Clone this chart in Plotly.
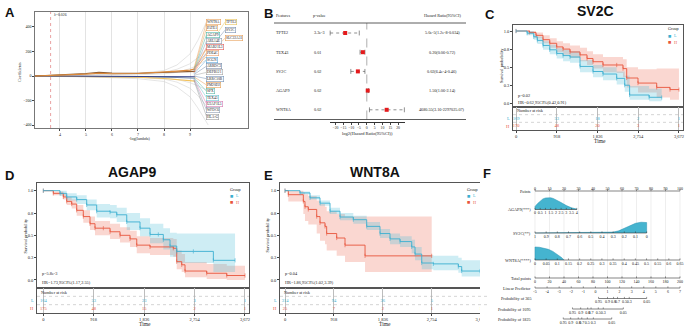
import numpy as np
import plotly.graph_objects as go

# ======================= DATA =======================
# ---- Panel A: LASSO coefficient paths (x = -log(lambda)) ----
lasso_x_gray = [3.04, 4.0, 5.0, 5.5, 6.0, 7.0, 8.0, 8.5, 9.0, 9.3, 9.7]
lasso_gray_1 = [0, 2, 8, 12, 14, 20, 45, 90, 180, 290, 470]
lasso_gray_2 = [0, 2, 6, 10, 12, 18, 30, 55, 100, 150, 230]
lasso_gray_3 = [0, 1, 4, 6, 8, 10, 18, 30, 60, 90, 140]
lasso_gray_4 = [0, -1, -2, -4, -5, -8, -15, -28, -55, -80, -120]
lasso_gray_5 = [0, -1, -4, -6, -8, -12, -25, -50, -100, -160, -260]
lasso_gray_6 = [0, -2, -6, -10, -14, -22, -45, -90, -170, -260, -400]
lasso_x_col = [3.04, 4.0, 5.0, 5.5, 6.0, 7.0, 8.0, 8.5, 9.0, 9.2]
lasso_orange = [0, 5, 15, 22, 18, 20, 30, 40, 48, 58]
lasso_brown = [0, 8, 20, 30, 25, 22, 28, 32, 35, 38]
lasso_navy = [0, 0, 0, -1, -1, -2, -3, -4, -5, -6]
lasso_yellow = [0, -3, -8, -10, -8, -10, -20, -28, -35, -42]
lasso_slate = [0, -1, -3, -5, -6, -7, -10, -12, -15, -18]
lambda_log = 3.64
lambda_text = "λ=0.026"
genes_col1 = ["WNT8A", "PATE1", "AGAP9", "ARL14E", "MAB21L3", "PDE4C", "SCGN", "ARRDC3",
              "DEFB121", "LRRC10B", "PM20D2", "SPX", "TEX43", "U2AF1L5", "WFDC6", "HLA-G"]
genes_col2 = ["TPTE2", "SV2C", "SLC22A31"]
fan_origin = [60, 52, 45, 38, 30, 24, 18, 12, 6, 0, -6, -12, -18, -24, -30, -36]
fan_origin2 = [66, 62, 58]

# ---- Panel B: multivariate Cox forest ----
features = ["TPTE2", "TEX43", "SV2C", "AGAP9", "WNT8A"]
pvalues = ["3.3e-3", "0.01", "0.02", "0.02", "0.02"]
hr_text = ["5.0e-5(1.2e-8-0.034)", "0.20(0.06-0.72)", "0.02(6.4e-4-0.46)",
           "1.50(1.06-2.14)", "4680.55(3.16-2297025.07)"]
log2_hr = [-13.8, -2.5, -5.7, 0.6, 12.7]
log2_lo = [-23.4, -4.3, -10.2, 0.1, 1.7]
log2_hi = [-4.8, -1.2, -1.2, 1.1, 24.0]

# ---- KM curves: time (days), survival, CI ----
time_ticks = [0, 918, 1836, 2754, 3672]
time_labels = ["0", "918", "1,836", "2,754", "3,672"]

sv2c_L_t = [0, 250, 400, 480, 608, 760, 917, 1060, 1217, 1442, 1735, 1960, 2269, 2450, 2560, 3000, 3283]
sv2c_L_s = [1.0, 0.97, 0.92, 0.87, 0.80, 0.74, 0.69, 0.66, 0.64, 0.51, 0.44, 0.405, 0.345, 0.25, 0.115, 0.083, 0.08]
sv2c_L_lo = [1.0, 0.94, 0.88, 0.82, 0.74, 0.68, 0.62, 0.58, 0.56, 0.43, 0.36, 0.32, 0.26, 0.16, 0.05, 0.03, 0.03]
sv2c_L_hi = [1.0, 1.0, 0.96, 0.92, 0.86, 0.81, 0.76, 0.74, 0.72, 0.60, 0.53, 0.50, 0.44, 0.38, 0.24, 0.20, 0.20]
sv2c_H_t = [0, 300, 450, 608, 760, 917, 1060, 1217, 1442, 1600, 1735, 1960, 2269, 2411, 2494, 2749, 3170, 3470, 3672]
sv2c_H_s = [1.0, 0.98, 0.94, 0.88, 0.83, 0.78, 0.75, 0.71, 0.67, 0.62, 0.575, 0.53, 0.53, 0.48, 0.35, 0.28, 0.22, 0.19, 0.19]
sv2c_H_lo = [1.0, 0.96, 0.90, 0.83, 0.77, 0.71, 0.67, 0.63, 0.58, 0.53, 0.48, 0.43, 0.42, 0.36, 0.22, 0.15, 0.08, 0.05, 0.05]
sv2c_H_hi = [1.0, 1.0, 0.98, 0.94, 0.90, 0.86, 0.83, 0.80, 0.77, 0.72, 0.68, 0.64, 0.64, 0.61, 0.50, 0.47, 0.48, 0.48, 0.48]
sv2c_risk_L = [169, 53, 18, 2, 1]
sv2c_risk_H = [170, 48, 20, 3, 1]

agap9_L_t = [0, 304, 426, 608, 790, 972, 1215, 1337, 1519, 1761, 1943, 2094, 2185, 2307, 2429, 2732, 3096, 3491]
agap9_L_s = [1.0, 0.97, 0.93, 0.90, 0.84, 0.77, 0.76, 0.73, 0.65, 0.58, 0.51, 0.51, 0.45, 0.38, 0.32, 0.32, 0.22, 0.22]
agap9_L_lo = [1.0, 0.94, 0.89, 0.85, 0.78, 0.70, 0.69, 0.65, 0.56, 0.49, 0.41, 0.41, 0.34, 0.26, 0.19, 0.19, 0.09, 0.09]
agap9_L_hi = [1.0, 1.0, 0.97, 0.95, 0.90, 0.85, 0.84, 0.81, 0.75, 0.69, 0.63, 0.63, 0.58, 0.53, 0.52, 0.52, 0.52, 0.52]
agap9_H_t = [0, 182, 364, 426, 517, 608, 728, 850, 941, 1093, 1215, 1397, 1579, 1701, 1943, 2367, 2429, 2520, 2580, 2975, 3340, 3672]
agap9_H_s = [1.0, 0.97, 0.93, 0.88, 0.85, 0.78, 0.71, 0.63, 0.58, 0.58, 0.54, 0.50, 0.46, 0.39, 0.37, 0.355, 0.205, 0.17, 0.10, 0.075, 0.05, 0.05]
agap9_H_lo = [1.0, 0.95, 0.90, 0.84, 0.80, 0.72, 0.64, 0.56, 0.50, 0.50, 0.46, 0.42, 0.37, 0.30, 0.28, 0.26, 0.12, 0.09, 0.03, 0.01, 0.0, 0.0]
agap9_H_hi = [1.0, 0.99, 0.97, 0.93, 0.90, 0.84, 0.78, 0.71, 0.66, 0.66, 0.63, 0.59, 0.55, 0.49, 0.47, 0.46, 0.33, 0.29, 0.20, 0.18, 0.16, 0.16]
agap9_risk_L = [164, 53, 23, 3, 1]
agap9_risk_H = [175, 48, 15, 2, 1]

wnt8a_L_t = [0, 281, 469, 657, 845, 1032, 1282, 1533, 1783, 1971, 2159, 2378, 2440, 2566, 2784, 3253, 3316, 3660]
wnt8a_L_s = [1.0, 0.975, 0.92, 0.86, 0.77, 0.705, 0.675, 0.60, 0.52, 0.46, 0.43, 0.37, 0.29, 0.19, 0.18, 0.15, 0.10, 0.10]
wnt8a_L_lo = [1.0, 0.96, 0.90, 0.83, 0.74, 0.67, 0.63, 0.56, 0.47, 0.40, 0.37, 0.30, 0.22, 0.12, 0.11, 0.08, 0.04, 0.04]
wnt8a_L_hi = [1.0, 0.99, 0.95, 0.89, 0.81, 0.75, 0.72, 0.65, 0.57, 0.52, 0.49, 0.45, 0.37, 0.28, 0.27, 0.25, 0.22, 0.22]
wnt8a_H_t = [0, 62, 344, 375, 437, 595, 657, 751, 782, 970, 1126, 1502, 2753]
wnt8a_H_s = [1.0, 0.955, 0.88, 0.82, 0.79, 0.71, 0.64, 0.60, 0.52, 0.47, 0.39, 0.27, 0.27]
wnt8a_H_lo = [1.0, 0.88, 0.74, 0.66, 0.62, 0.52, 0.44, 0.40, 0.33, 0.27, 0.20, 0.09, 0.09]
wnt8a_H_hi = [1.0, 1.0, 0.98, 0.96, 0.94, 0.89, 0.85, 0.82, 0.77, 0.74, 0.71, 0.71, 0.71]
wnt8a_risk_L = [314, 94, 36, 5, 1]
wnt8a_risk_H = [25, 7, 2, 1, 1]

# ---- Panel F: nomogram ----
points_ticks = [0, 10, 20, 30, 40, 50, 60, 70, 80, 90, 100]
agap9_vals = [0, 0.5, 1, 1.5, 2, 2.5, 3, 3.5, 4]
agap9_labels = ["0", "0.5", "1", "1.5", "2", "2.5", "3", "3.5", "4"]
agap9_max_points = 28.8
sv2c_vals = [1, 0.9, 0.8, 0.7, 0.6, 0.5, 0.4, 0.3, 0.2, 0.1, 0]
sv2c_labels = ["1", "0.9", "0.8", "0.7", "0.6", "0.5", "0.4", "0.3", "0.2", "0.1", "0"]
sv2c_max_points = 77.0
wnt8a_vals = [0, 0.05, 0.1, 0.15, 0.2, 0.25, 0.3, 0.35, 0.4, 0.45, 0.5, 0.55, 0.6, 0.65]
wnt8a_labels = ["0", "0.05", "0.1", "0.15", "0.2", "0.25", "0.3", "0.35", "0.4", "0.45", "0.5", "0.55", "0.6", "0.65"]
total_ticks = [0, 20, 40, 60, 80, 100, 120, 140, 160, 180, 200]
lp_ticks = [-5, -4, -3, -2, -1, 0, 1, 2, 3, 4, 5, 6, 7]
prob_labels = ["0.95", "0.9", "0.8", "0.7", "0.5", "0.3", "0.05"]
prob365_lp = [0.26, 1.0, 1.5, 1.83, 2.4, 2.8, 4.24]
prob1095_lp = [-1.9, -1.22, -0.64, -0.36, 0.24, 0.65, 2.31]
prob1825_lp = [-2.66, -2.05, -1.42, -1.13, -0.67, -0.17, 1.35]
dens_agap9_x = [0, 0.25, 0.5, 0.75, 1.0, 1.25, 1.5, 1.75, 2.0, 2.5, 3.0, 3.5, 4.0]
dens_agap9_y = [0.25, 0.5, 0.72, 0.88, 0.96, 1.0, 0.98, 0.92, 0.82, 0.58, 0.33, 0.14, 0.04]
dens_sv2c_x = [1.0, 0.7, 0.5, 0.35, 0.3, 0.25, 0.2, 0.15, 0.1, 0.05, 0.02, 0.0]
dens_sv2c_y = [0.0, 0.005, 0.01, 0.03, 0.08, 0.2, 0.45, 0.7, 0.88, 0.98, 1.0, 0.95]
dens_wnt8a_x = [0, 0.02, 0.04, 0.06, 0.08, 0.10, 0.12, 0.13]
dens_wnt8a_y = [1.0, 0.98, 0.92, 0.82, 0.66, 0.45, 0.18, 0.0]

# ======================= STYLE / LAYOUT HELPERS =======================
W, H = 685, 328
BLUE, RED = "#3BAFD0", "#E8553C"
BLUE_F, RED_F = "rgba(80,190,215,0.28)", "rgba(236,110,90,0.28)"
SERIF = "Liberation Serif"
SANS = "Liberation Sans"


def PX(x):
    return x / W


def PY(y):
    return 1 - y / H


def dx(a, b):
    return [a / W, b / W]


def dy(top, bot):
    return [1 - bot / H, 1 - top / H]


def ax(**kw):
    base = dict(showgrid=False, zeroline=False, showline=False, ticks="", showticklabels=False,
                fixedrange=True, tickangle=0, tickfont=dict(size=4.5, family=SERIF, color="#222"))
    base.update(kw)
    return base


fig = go.Figure()
layout = dict(width=W, height=H, margin=dict(l=0, r=0, t=0, b=0), paper_bgcolor="white",
              plot_bgcolor="white", showlegend=False,
              font=dict(family=SERIF, size=5, color="#222"))
annotations = []
shapes = []


def ann(text, x, y, xref="paper", yref="paper", size=4.5, color="#222", xanchor="center",
        yanchor="middle", family=SERIF, **kw):
    annotations.append(dict(text=text, x=x, y=y, xref=xref, yref=yref, showarrow=False,
                            font=dict(size=size, color=color, family=family),
                            xanchor=xanchor, yanchor=yanchor, **kw))


def line(x, y, xa, ya, color, width=1.0, dash=None, shape="linear", mode="lines", **kw):
    fig.add_trace(go.Scatter(x=x, y=y, mode=mode, xaxis=xa, yaxis=ya, hoverinfo="skip",
                             line=dict(color=color, width=width, dash=dash, shape=shape), **kw))


# ======================= PANEL A =======================
A_dom_x = (35, 248)
A_dom_y = (12, 128)
y0px, per_px = 76.0, 8.16   # data value 0 at px 76; 8.16 units per px
layout["xaxis"] = ax(domain=dx(*A_dom_x), range=[3.04, 11.23], anchor="y", showline=True, mirror=True,
                     linecolor="#777", linewidth=0.6, ticks="outside", ticklen=2, tickwidth=0.6,
                     showticklabels=True, tickvals=[4, 5, 6, 7, 8, 9], showgrid=True,
                     gridcolor="#e3e3e3", gridwidth=0.6, tickfont=dict(size=4, family=SERIF))
layout["yaxis"] = ax(domain=dy(*A_dom_y), range=[(y0px - 128) * per_px, (y0px - 12) * per_px], anchor="x",
                     showline=True, mirror=True, linecolor="#777", linewidth=0.6, ticks="outside",
                     ticklen=2, tickwidth=0.6, showticklabels=True, tickvals=[-400, -200, 0, 200, 400],
                     tickfont=dict(size=4, family=SERIF))
for g in [lasso_gray_1, lasso_gray_2, lasso_gray_3, lasso_gray_4, lasso_gray_5, lasso_gray_6]:
    line(lasso_x_gray, g, "x", "y", "#d4d4d4", 0.6)
for g, c in [(lasso_slate, "#7d93ab"), (lasso_yellow, "#f2c25e"), (lasso_navy, "#34428a"),
             (lasso_brown, "#8a5a30"), (lasso_orange, "#dd8a3a")]:
    line(lasso_x_col, g, "x", "y", c, 1.1)
shapes.append(dict(type="line", xref="x", yref="y domain", x0=lambda_log, x1=lambda_log, y0=0, y1=1,
                   line=dict(color="#e07a7a", width=0.7, dash="dot")))
ann(lambda_text, lambda_log + 0.05, PY(15), xref="x", size=3.8, xanchor="left")
col1_colors = ["#e8a15a", "#e3a35f", "#4fb8a8", "#8c9bb3", "#e0605a", "#eba06c", "#5ca7d9", "#7b8ca8",
               "#a5a5a5", "#7391b8", "#e89b52", "#5fb9a6", "#6cc7d1", "#d67ab1", "#8e9bb0", "#9a9a9a"]
col2_colors = ["#e8c25a", "#7a8fb0", "#e8a15a"]
x_col1 = 3.04 + (206.5 - 35) / 26.0
x_col2 = 3.04 + (225.0 - 35) / 26.0
for i, gname in enumerate(genes_col1):
    ypx = 22 + 6.3 * i
    line([9.15, x_col1], [fan_origin[i], (y0px - ypx) * per_px], "x", "y", col1_colors[i], 0.5)
    ann(gname, PX(206.5), PY(ypx), size=3.6, xanchor="left", bordercolor=col1_colors[i],
        borderwidth=0.6, borderpad=0.3, bgcolor="white")
for i, gname in enumerate(genes_col2):
    ypx = 22 + 8.1 * i
    line([9.15, x_col2], [fan_origin2[i], (y0px - ypx) * per_px], "x", "y", col2_colors[i], 0.5)
    ann(gname, PX(225), PY(ypx), size=3.6, xanchor="left", bordercolor=col2_colors[i],
        borderwidth=0.6, borderpad=0.3, bgcolor="white")
ann("Coefficients", PX(20), PY(72), size=4, textangle=-90)
ann("-log(lambda)", PX(140), PY(138.5), size=4)

# ======================= PANEL B =======================
rows = list(range(len(features)))
row_top_px, row_step = 33.0, 19.2
layout["xaxis2"] = ax(domain=dx(330, 405), range=[-23.5, 24.4], anchor="y2", showline=True,
                      linecolor="#333", linewidth=0.6, ticks="outside", ticklen=2, tickwidth=0.6,
                      showticklabels=True, tickvals=[-20, -15, -10, -5, 0, 5, 10, 15, 20],
                      tickfont=dict(size=3.8, family=SERIF))
layout["yaxis2"] = ax(domain=dy(23, 122), range=[(122 - row_top_px) / row_step, (23 - row_top_px) / row_step],
                      anchor="x2")
for i in rows:
    line([log2_lo[i], log2_hi[i]], [i, i], "x2", "y2", "#444", 0.6, dash="dot")
fig.add_trace(go.Scatter(x=log2_lo + log2_hi, y=rows + rows, mode="markers", xaxis="x2", yaxis="y2",
                         hoverinfo="skip", cliponaxis=False,
                         marker=dict(symbol="line-ns", size=3.5, line=dict(width=0.6, color="#444"))))
fig.add_trace(go.Scatter(x=log2_hr, y=rows, mode="markers", xaxis="x2", yaxis="y2", hoverinfo="skip",
                         marker=dict(symbol="square", size=4, color="#e41a1c")))
shapes.append(dict(type="line", xref="x2", yref="paper", x0=0, x1=0, y0=PY(119.5), y1=PY(23),
                   line=dict(color="#777", width=0.6, dash="dash")))
shapes.append(dict(type="line", xref="paper", yref="paper", x0=PX(274), x1=PX(466), y0=PY(23), y1=PY(23),
                   line=dict(color="#333", width=0.8)))
shapes.append(dict(type="line", xref="paper", yref="paper", x0=PX(274), x1=PX(466), y0=PY(119.5),
                   y1=PY(119.5), line=dict(color="#333", width=0.8)))
ann("Features", PX(274), PY(15), size=4.2, xanchor="left")
ann("p-value", PX(311), PY(15), size=4.2, xanchor="left")
ann("Hazard Ratio(95%CI)", PX(442), PY(15), size=4.2)
for i in rows:
    ann(features[i], PX(274), i, yref="y2", size=4.2, xanchor="left")
    ann(pvalues[i], PX(312), i, yref="y2", size=4.2, xanchor="left")
    ann(hr_text[i], PX(442), i, yref="y2", size=4.2)
ann("log2(Hazard Ratio(95%CI))", PX(367), PY(133), size=4.5)


# ======================= KM PANELS =======================
def km_panel(kx, ky, rx, ry, xdom, km_top, km_bot, r_bot, trange, yr, L, Hh, riskL, riskH,
             ptxt, hrtxt, leg_x, leg_y, ytitle_x):
    kxa, kya, rxa, rya = f"x{kx}", f"y{ky}", f"x{rx}", f"y{ry}"
    layout[f"xaxis{kx}"] = ax(domain=dx(*xdom), range=trange, anchor=kya, showline=True, mirror=True,
                              linecolor="#555", linewidth=0.6)
    layout[f"yaxis{ky}"] = ax(domain=dy(km_top, km_bot), range=yr, anchor=kxa, showline=True, mirror=True,
                              linecolor="#555", linewidth=0.6, ticks="outside", ticklen=2, tickwidth=0.6,
                              showticklabels=True, tickvals=[0, 0.25, 0.5, 0.75, 1.0],
                              ticktext=["0.0", "0.3", "0.5", "0.8", "1.0"])
    layout[f"xaxis{rx}"] = ax(domain=dx(*xdom), range=trange, anchor=rya, showline=True, mirror=True,
                              linecolor="#555", linewidth=0.6, ticks="outside", ticklen=2, tickwidth=0.6,
                              showticklabels=True, tickvals=time_ticks, ticktext=time_labels,
                              showgrid=True, gridcolor="#bdbdbd", gridwidth=0.6)
    layout[f"yaxis{ry}"] = ax(domain=dy(km_bot, r_bot), range=[0, 3], anchor=rxa, showline=True,
                              mirror=True, linecolor="#555", linewidth=0.6)
    for (t, s, lo, hi), fillc in [(Hh, RED_F), (L, BLUE_F)]:
        fig.add_trace(go.Scatter(x=t, y=hi, mode="lines", xaxis=kxa, yaxis=kya, hoverinfo="skip",
                                 line=dict(width=0, shape="hv")))
        fig.add_trace(go.Scatter(x=t, y=lo, mode="lines", xaxis=kxa, yaxis=kya, hoverinfo="skip",
                                 fill="tonexty", fillcolor=fillc, line=dict(width=0, shape="hv")))
    for (t, s, lo, hi), c in [(Hh, RED), (L, BLUE)]:
        fig.add_trace(go.Scatter(x=t, y=s, mode="lines+markers", xaxis=kxa, yaxis=kya, hoverinfo="skip",
                                 line=dict(color=c, width=0.9, shape="hv"),
                                 marker=dict(symbol="line-ns", size=3, line=dict(width=0.6, color=c))))
    for yv in (1, 2):
        shapes.append(dict(type="line", xref=f"{rxa} domain", yref=rya, x0=0, x1=1, y0=yv, y1=yv,
                           line=dict(color="#aaa", width=0.5, dash="dot")))
    fig.add_trace(go.Scatter(x=time_ticks, y=[1.5] * 5, mode="text", text=[str(v) for v in riskL],
                             xaxis=rxa, yaxis=rya, hoverinfo="skip", cliponaxis=False,
                             textfont=dict(size=4.5, color=BLUE, family=SERIF)))
    fig.add_trace(go.Scatter(x=time_ticks, y=[0.5] * 5, mode="text", text=[str(v) for v in riskH],
                             xaxis=rxa, yaxis=rya, hoverinfo="skip", cliponaxis=False,
                             textfont=dict(size=4.5, color=RED, family=SERIF)))
    ann("Number at risk", 0.01, 2.5, xref=f"{rxa} domain", yref=rya, size=4.3, xanchor="left")
    ann("L", PX(xdom[0] - 1.5), 1.5, yref=rya, size=4.5, color=BLUE, xanchor="right")
    ann("H", PX(xdom[0] - 1.5), 0.5, yref=rya, size=4.5, color=RED, xanchor="right")
    ann(ptxt, 0.015, 0.135, xref=f"{kxa} domain", yref=f"{kya} domain", size=4.3, xanchor="left")
    ann(hrtxt, 0.015, 0.05, xref=f"{kxa} domain", yref=f"{kya} domain", size=4.3, xanchor="left")
    ann("Group", PX(leg_x), PY(leg_y), size=4.2, xanchor="left")
    ann("■", PX(leg_x), PY(leg_y + 6.5), size=5.5, color=BLUE, xanchor="left", family=SANS)
    ann("L", PX(leg_x + 6), PY(leg_y + 6.5), size=4.2, color=BLUE, xanchor="left")
    ann("■", PX(leg_x), PY(leg_y + 13), size=5.5, color=RED, xanchor="left", family=SANS)
    ann("H", PX(leg_x + 6), PY(leg_y + 13), size=4.2, color=RED, xanchor="left")
    ann("Survival probability", PX(ytitle_x), PY((km_top + km_bot) / 2), size=4.3, textangle=-90)
    ann("Time", PX((xdom[0] + xdom[1]) / 2 + 2), PY(r_bot + 11), size=5.5)


km_panel(3, 3, 4, 4, (513, 683), 25, 107, 130, [-68, 3763], [-0.051, 1.083],
         (sv2c_L_t, sv2c_L_s, sv2c_L_lo, sv2c_L_hi), (sv2c_H_t, sv2c_H_s, sv2c_H_lo, sv2c_H_hi),
         sv2c_risk_L, sv2c_risk_H, "p=0.02", "HR=0.62,95CI%(0.42,0.91)", 666, 29, 502)
km_panel(5, 5, 6, 6, (37, 249), 183, 288, 313, [-115, 3745], [-0.09, 1.086],
         (agap9_L_t, agap9_L_s, agap9_L_lo, agap9_L_hi), (agap9_H_t, agap9_H_s, agap9_H_lo, agap9_H_hi),
         agap9_risk_L, agap9_risk_H, "p=5.8e-3", "HR=1.73,95CI%(1.17,2.55)", 228, 189, 25)
km_panel(7, 7, 8, 8, (280, 487), 183, 288, 313, [-94, 3791], [-0.09, 1.086],
         (wnt8a_L_t, wnt8a_L_s, wnt8a_L_lo, wnt8a_L_hi), (wnt8a_H_t, wnt8a_H_s, wnt8a_H_lo, wnt8a_H_hi),
         wnt8a_risk_L, wnt8a_risk_H, "p=0.04", "HR=1.86,95CI%(1.02,3.39)", 465, 189, 267)

# ======================= PANEL F: NOMOGRAM =======================
px_per_pt = 1.45
left_px0 = 535.0
layout["xaxis9"] = ax(domain=dx(480, 685), range=[(480 - left_px0) / px_per_pt, (685 - left_px0) / px_per_pt],
                      anchor="y9")
layout["yaxis9"] = ax(domain=dy(165, 328), range=[328, 165], anchor="x9")
row_y = dict(points=191, agap9=209.5, sv2c=233, wnt8a=260, total=278, lp=288,
             p365=298.5, p1095=309, p1825=319)
gx, gy = [], []
for p in points_ticks:
    gx += [p, p, None]
    gy += [row_y["points"], row_y["lp"] - 8, None]
line(gx, gy, "x9", "y9", "#e2e2e2", 0.6)


def lp_to_pts(v):
    return (v - lp_ticks[0]) / (lp_ticks[-1] - lp_ticks[0]) * 100


def scale(pts, labels, yrow, above=False):
    line([min(pts), max(pts)], [yrow, yrow], "x9", "y9", "#333", 0.6)
    tx, ty = [], []
    for p in pts:
        tx += [p, p, None]
        ty += [yrow, yrow - 1.6, None]
    line(tx, ty, "x9", "y9", "#333", 0.5)
    fig.add_trace(go.Scatter(x=pts, y=[yrow - 2.3 if above else yrow + 3.8] * len(pts), mode="text",
                             text=labels, xaxis="x9", yaxis="y9", hoverinfo="skip", cliponaxis=False,
                             textfont=dict(size=4, family=SERIF, color="#222")))


def density(xpts, d, yrow, hpx=12):
    xs = [xpts[0]] + list(xpts) + [xpts[-1]]
    ys = [yrow] + [yrow - v * hpx for v in d] + [yrow]
    fig.add_trace(go.Scatter(x=xs, y=ys, mode="lines", fill="toself", fillcolor="#45b4cf",
                             line=dict(color="#2b93b3", width=0.5), xaxis="x9", yaxis="y9",
                             hoverinfo="skip"))


density([v / agap9_vals[-1] * agap9_max_points for v in dens_agap9_x], dens_agap9_y, row_y["agap9"])
density([(1 - v) * sv2c_max_points for v in dens_sv2c_x], dens_sv2c_y, row_y["sv2c"], 11)
density([v / wnt8a_vals[-1] * 100 for v in dens_wnt8a_x], dens_wnt8a_y, row_y["wnt8a"], 13)

scale(points_ticks, [str(p) for p in points_ticks], row_y["points"], above=True)
scale([v / agap9_vals[-1] * agap9_max_points for v in agap9_vals], agap9_labels, row_y["agap9"])
scale([(1 - v) * sv2c_max_points for v in sv2c_vals], sv2c_labels, row_y["sv2c"])
scale([v / wnt8a_vals[-1] * 100 for v in wnt8a_vals], wnt8a_labels, row_y["wnt8a"])
scale([v / total_ticks[-1] * 100 for v in total_ticks], [str(v) for v in total_ticks], row_y["total"])
scale([lp_to_pts(v) for v in lp_ticks], [str(v) for v in lp_ticks], row_y["lp"])
scale([lp_to_pts(v) for v in prob365_lp], prob_labels, row_y["p365"])
scale([lp_to_pts(v) for v in prob1095_lp], prob_labels, row_y["p1095"])
scale([lp_to_pts(v) for v in prob1825_lp], prob_labels, row_y["p1825"])

for key, lab in [("points", "Points"), ("agap9", "AGAP9(***)"), ("sv2c", "SV2C(**)"),
                 ("wnt8a", "WNT8A(****)"), ("total", "Total points"), ("lp", "Linear Predictor"),
                 ("p365", "Probability of 365"), ("p1095", "Probability of 1095"),
                 ("p1825", "Probability of 1825")]:
    ann(lab, PX(533), row_y[key], yref="y9", size=4.2, xanchor="right")

# ======================= LETTERS & TITLES =======================
for letter, x, y in [("A", 3, 3), ("B", 262, 4), ("C", 483, 5), ("D", 3, 166), ("E", 262, 166),
                     ("F", 481, 164)]:
    ann(f"<b>{letter}</b>", PX(x), PY(y), size=13, family=SANS, color="#111", xanchor="left", yanchor="top")
for t, x, y in [("SV2C", 595, 11), ("AGAP9", 132, 172), ("WNT8A", 375, 172)]:
    ann(f"<b>{t}</b>", PX(x), PY(y), size=14, family=SANS, color="#111")

layout["annotations"] = annotations
layout["shapes"] = shapes
fig.update_layout(**layout)
fig.write_html("out.html", config={"displayModeBar": False},
               post_script="document.body.style.margin='0';document.body.style.overflow='hidden';")
